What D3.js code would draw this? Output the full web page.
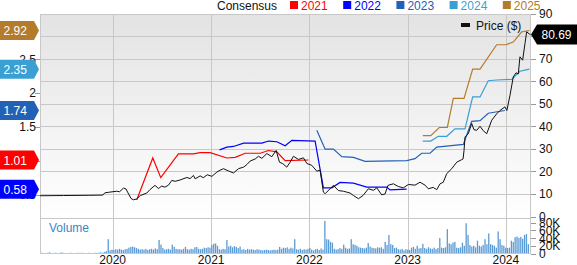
<!DOCTYPE html>
<html>
<head>
<meta charset="utf-8">
<script src="https://cdn.jsdelivr.net/npm/d3@7"></script>
<style>
body { margin: 0; background: #fff; }
text { font-family: "Liberation Sans", Arial, sans-serif; }
</style>
</head>
<body>
<div id="chart"></div>
<script>
// time is given as fractional year
const price = [
  [2019.26, 9.2], [2019.5, 9.3], [2019.75, 9.4], [2019.9, 9.5], [2019.92, 10.5], [2019.97, 10.8],
  [2020.04, 11.2], [2020.07, 11.0], [2020.11, 12.6], [2020.135, 12.2], [2020.155, 10.5], [2020.186, 8.0],
  [2020.21, 7.4], [2020.244, 7.8], [2020.28, 9.3], [2020.346, 10.4], [2020.38, 12.0], [2020.43, 13.8],
  [2020.464, 12.4], [2020.498, 13.5], [2020.53, 13.0], [2020.566, 13.9], [2020.60, 16.0], [2020.634, 15.6],
  [2020.685, 16.2], [2020.753, 17.3], [2020.786, 16.8], [2020.82, 18.2], [2020.837, 16.7], [2020.888, 18.0],
  [2020.92, 17.2], [2020.96, 18.5], [2021.007, 17.8], [2021.058, 19.7], [2021.09, 20.5], [2021.125, 21.2],
  [2021.176, 20.2], [2021.227, 19.3], [2021.278, 21.2], [2021.33, 21.9], [2021.363, 23.0], [2021.397, 24.6],
  [2021.448, 25.5], [2021.481, 26.7], [2021.516, 25.8], [2021.567, 27.9], [2021.617, 26.5], [2021.661, 29.3],
  [2021.695, 24.1], [2021.729, 23.4], [2021.77, 21.9], [2021.804, 24.1], [2021.837, 26.7], [2021.888, 25.3],
  [2021.939, 26.0], [2021.974, 23.5], [2022.024, 22.7], [2022.075, 20.1], [2022.109, 20.5], [2022.142, 10.8],
  [2022.16, 10.1], [2022.21, 12.3], [2022.244, 13.8], [2022.295, 11.5], [2022.346, 11.2], [2022.38, 10.8],
  [2022.414, 10.4], [2022.448, 9.3], [2022.499, 7.9], [2022.546, 9.3], [2022.60, 12.3], [2022.651, 11.6],
  [2022.686, 12.7], [2022.736, 9.6], [2022.77, 10.0], [2022.80, 13.8], [2022.855, 14.5], [2022.905, 13.3],
  [2022.956, 12.7], [2023.007, 14.2], [2023.075, 13.9], [2023.126, 15.2], [2023.177, 13.9], [2023.21, 12.3],
  [2023.26, 12.9], [2023.296, 11.9], [2023.33, 14.5], [2023.363, 15.2], [2023.398, 19.0], [2023.449, 21.2],
  [2023.50, 24.1], [2023.55, 25.2], [2023.564, 25.5], [2023.574, 29.3], [2023.584, 35.3], [2023.617, 36.7],
  [2023.652, 41.2], [2023.675, 38.5], [2023.703, 38.2], [2023.737, 40.0], [2023.77, 38.0], [2023.805, 36.7],
  [2023.856, 42.7], [2023.906, 45.5], [2023.94, 47.0], [2023.99, 48.6], [2024.01, 47.0], [2024.042, 53.8],
  [2024.075, 61.9], [2024.103, 63.7], [2024.126, 63.2], [2024.143, 70.8], [2024.17, 69.3], [2024.194, 76.7],
  [2024.211, 81.9], [2024.238, 80.9], [2024.25, 80.69]
];

const eps2021 = [
  [2020.244, 0.42], [2020.407, 1.04], [2020.488, 0.75], [2020.667, 1.10], [2020.82, 1.10], [2020.888, 1.12],
  [2020.99, 1.12], [2021.16, 1.04], [2021.244, 1.05], [2021.346, 1.11], [2021.50, 1.11], [2021.583, 1.15],
  [2021.668, 1.13], [2021.753, 1.00], [2021.99, 1.01]
];
const eps2022 = [
  [2021.085, 1.16], [2021.16, 1.20], [2021.227, 1.21], [2021.33, 1.26], [2021.516, 1.26], [2021.583, 1.29],
  [2021.668, 1.28], [2021.753, 1.22], [2021.821, 1.30], [2022.058, 1.29], [2022.142, 0.60], [2022.228, 0.60],
  [2022.312, 0.68], [2022.448, 0.67], [2022.584, 0.61], [2022.787, 0.61], [2022.82, 0.57], [2022.99, 0.58]
];
const eps2023 = [
  [2022.075, 1.45], [2022.16, 1.17], [2022.244, 1.17], [2022.33, 1.06], [2022.448, 1.05], [2022.567, 0.99],
  [2022.99, 1.00], [2023.075, 1.03], [2023.143, 1.11], [2023.228, 1.11], [2023.296, 1.20], [2023.567, 1.24],
  [2023.652, 1.58], [2023.737, 1.59], [2023.821, 1.70], [2023.99, 1.74]
];
const eps2024 = [
  [2023.154, 1.29], [2023.235, 1.29], [2023.312, 1.36], [2023.398, 1.36], [2023.482, 1.47], [2023.584, 1.47],
  [2023.662, 1.94], [2023.737, 1.94], [2023.821, 2.18], [2023.906, 2.19], [2024.059, 2.20], [2024.143, 2.32],
  [2024.238, 2.35]
];
const eps2025 = [
  [2023.154, 1.37], [2023.235, 1.37], [2023.322, 1.49], [2023.404, 1.49], [2023.465, 1.92], [2023.574, 1.92],
  [2023.662, 2.35], [2023.737, 2.35], [2023.906, 2.71], [2024.0, 2.71], [2024.075, 2.75], [2024.16, 2.90],
  [2024.238, 2.92]
];

// weekly volume in thousands, first week starting 2019-04-05
const volumeStart = [2019, 3, 5];
const volume = [
  1,2,1,1,2,3,1,1,2,1, 1,3,2,1,1,1,2,1,1,1, 2,1,2,1,1,1,2,1,1,2, 1,2,3,2,
  4,6,37, 8,10,9,11,10,12,10,9,11,12, 15,17,18,16,14, 12,10,
  11,10,12,9,11,12,10,13,11, 35,23,14,10,11,12,10, 23,17,12,11,
  11,10,12,17,11,10,12,11,16, 17,12,11, 12,15,14,16, 15,22,25,26,20,
  11,10,12,11, 35, 18,20,16,19,17,14,18, 10,11,9,12,10,11, 10,9,11,10,
  9,8,9,10,9,8,9,10, 9,10, 17,12,15,14,16,12,15, 13,37,
  11,10,12,9,11,10,12, 14,10,8,11,12,9,13, 10,84, 37,36,30,28, 12,10,11,
  14,12,23,15,12, 13,37, 24,22,20,16,15,14, 13,15,27,18,
  15,14,13,16,15,16,12, 30,22,48, 24,22,14,15, 11,10,12,8,11,10,9,
  15,17,12,20, 13,14,25, 14,12,16,13,12,15,11,14, 40, 15,14,16, 63,
  26,24,28,30, 15,14,16,28, 20,78,48, 22,18,20,16, 33, 20,18,22,
  37,24,52, 24,22,20,15, 57,37, 22,20, 15,14,15, 33,30, 42,44,40,43,
  38,48,50, 24
];

const years = [2020, 2021, 2022, 2023, 2024];
const priceTicks = [0, 10, 20, 30, 40, 50, 60, 70, 80, 90];
const epsTicks = [0.5, 1, 1.5, 2, 2.5];
const volumeTicks = [0, 20, 40, 60, 80];
const volumeTickLabels = ["0", "20K", "40K", "60K", "80K"];
const legendYears = ["2021", "2022", "2023", "2024", "2025"];
const lastEpsLabels = ["1.01", "0.58", "1.74", "2.35", "2.92"];
const lastPriceLabel = "80.69";

const colors = ["#ff0000", "#0000ff", "#2262b6", "#3a9fd2", "#b47b2c"];
const epsSeries = [eps2021, eps2022, eps2023, eps2024, eps2025];

function toDate(t) {
  const y = Math.floor(t);
  const a = new Date(y, 0, 1).getTime(), b = new Date(y + 1, 0, 1).getTime();
  return new Date(a + (t - y) * (b - a));
}

const W = 577, H = 265;
const plotLeft = 40, plotRight = 531, plotTop = 14, mainBottom = 218, volBottom = 254;

const svg = d3.select("#chart").append("svg")
  .attr("width", W).attr("height", H);

const x = d3.scaleTime()
  .domain([toDate(2019.26), toDate(2024.255)])
  .range([plotLeft, plotRight]);
const yPrice = d3.scaleLinear().domain([0, 90]).range([216.5, 13.5]);
const yEps = d3.scaleLinear().domain([0, 3]).range([228.5, 25.1]);
const yVol = d3.scaleLinear().domain([0, 80]).range([253.5, 222.5]);

const grad = svg.append("defs").append("linearGradient")
  .attr("id", "bg").attr("x1", 0).attr("y1", 0).attr("x2", 0).attr("y2", 1);
grad.append("stop").attr("offset", "0%").attr("stop-color", "#e3e3e3");
grad.append("stop").attr("offset", "100%").attr("stop-color", "#ffffff");

svg.append("rect")
  .attr("x", plotLeft).attr("y", plotTop)
  .attr("width", plotRight - plotLeft).attr("height", mainBottom - plotTop)
  .attr("fill", "url(#bg)");

// grid
svg.append("g").selectAll("line")
  .data(priceTicks.filter(d => d > 0 && d < 90))
  .join("line")
  .attr("x1", plotLeft).attr("x2", plotRight)
  .attr("y1", d => Math.round(yPrice(d)) + 0.5).attr("y2", d => Math.round(yPrice(d)) + 0.5)
  .attr("stroke", "#c8c8c8");
svg.append("g").selectAll("line")
  .data(years)
  .join("line")
  .attr("x1", d => Math.round(x(new Date(d, 0, 1))) + 0.5)
  .attr("x2", d => Math.round(x(new Date(d, 0, 1))) + 0.5)
  .attr("y1", plotTop).attr("y2", volBottom)
  .attr("stroke", "#c8c8c8");

// volume
svg.append("g").selectAll("rect")
  .data(volume)
  .join("rect")
  .attr("x", (d, i) => x(d3.timeDay.offset(new Date(...volumeStart), 7 * i)))
  .attr("width", 1.3)
  .attr("y", d => yVol(d))
  .attr("height", d => yVol(0) - yVol(d))
  .attr("fill", "#5b9bd5");

svg.append("text")
  .attr("x", 49).attr("y", 232)
  .attr("font-size", 12).attr("fill", "#3a86c6")
  .text("Volume");

// frame
svg.append("rect")
  .attr("x", plotLeft + 0.5).attr("y", plotTop + 0.5)
  .attr("width", plotRight - plotLeft - 1).attr("height", volBottom - plotTop - 1)
  .attr("fill", "none").attr("stroke", "#c8c8c8");
svg.append("line")
  .attr("x1", plotLeft).attr("x2", plotRight)
  .attr("y1", mainBottom + 0.5).attr("y2", mainBottom + 0.5)
  .attr("stroke", "#c8c8c8");

// lines
const line = d3.line()
  .x(d => x(toDate(d[0])))
  .y(d => yEps(d[1]));
svg.append("g").selectAll("path")
  .data(epsSeries)
  .join("path")
  .attr("d", line)
  .attr("fill", "none")
  .attr("stroke", (d, i) => colors[i])
  .attr("stroke-width", 1.2);

svg.append("path")
  .datum(price)
  .attr("d", d3.line().x(d => x(toDate(d[0]))).y(d => yPrice(d[1])))
  .attr("fill", "none")
  .attr("stroke", "#111")
  .attr("stroke-width", 1);

// right axis (price)
const rAxis = svg.append("g");
rAxis.selectAll("line")
  .data(priceTicks)
  .join("line")
  .attr("x1", plotRight).attr("x2", plotRight + 5)
  .attr("y1", d => Math.round(yPrice(d)) + 0.5).attr("y2", d => Math.round(yPrice(d)) + 0.5)
  .attr("stroke", "#999");
rAxis.selectAll("text")
  .data(priceTicks)
  .join("text")
  .attr("x", 539).attr("y", d => yPrice(d) + 4.5)
  .attr("font-size", 12).attr("fill", "#111")
  .text(d => d);

// right axis (volume)
const vAxis = svg.append("g");
vAxis.selectAll("line")
  .data(volumeTicks)
  .join("line")
  .attr("x1", plotRight).attr("x2", plotRight + 5)
  .attr("y1", d => Math.round(yVol(d)) + 0.5).attr("y2", d => Math.round(yVol(d)) + 0.5)
  .attr("stroke", "#999");
vAxis.selectAll("text")
  .data(volumeTicks)
  .join("text")
  .attr("x", 539).attr("y", d => yVol(d) + 4.5)
  .attr("font-size", 12).attr("fill", "#111")
  .text((d, i) => volumeTickLabels[i]);

// left axis (eps)
const lAxis = svg.append("g");
lAxis.selectAll("line")
  .data(epsTicks)
  .join("line")
  .attr("x1", plotLeft - 5).attr("x2", plotLeft)
  .attr("y1", d => Math.round(yEps(d)) + 0.5).attr("y2", d => Math.round(yEps(d)) + 0.5)
  .attr("stroke", "#999");
lAxis.selectAll("text")
  .data(epsTicks)
  .join("text")
  .attr("x", 36).attr("y", d => yEps(d) + 4.5)
  .attr("text-anchor", "end")
  .attr("font-size", 12).attr("fill", "#111")
  .text(d => d);

// x axis labels
svg.append("g").selectAll("text")
  .data(years)
  .join("text")
  .attr("x", d => x(new Date(d, 0, 1)))
  .attr("y", 264)
  .attr("text-anchor", "middle")
  .attr("font-size", 12).attr("fill", "#111")
  .text(d => d);

// left badges
const badges = svg.append("g").selectAll("g")
  .data(epsSeries)
  .join("g")
  .attr("transform", d => `translate(0,${yEps(d[d.length - 1][1])})`);
badges.append("path")
  .attr("d", "M0,-9.5H34L39,0L34,9.5H0Z")
  .attr("fill", (d, i) => colors[i]);
badges.append("text")
  .attr("x", 3.5).attr("y", 4.5)
  .attr("font-size", 12).attr("fill", "#fff")
  .text((d, i) => lastEpsLabels[i]);

// price badge
const pb = svg.append("g")
  .attr("transform", `translate(0,${yPrice(price[price.length - 1][1])})`);
pb.append("path").attr("d", "M531,0L537,-10H577V10H537Z").attr("fill", "#000");
pb.append("text").attr("x", 541.5).attr("y", 4.5)
  .attr("font-size", 12).attr("fill", "#fff").text(lastPriceLabel);

// price legend
svg.append("rect").attr("x", 461).attr("y", 23).attr("width", 9).attr("height", 4).attr("fill", "#111");
svg.append("text").attr("x", 476).attr("y", 29.5)
  .attr("font-size", 12).attr("fill", "#111").text("Price ($)");

// top legend
svg.append("text").attr("x", 217).attr("y", 9.5)
  .attr("font-size", 12).attr("fill", "#111").text("Consensus");
let lx = 290;
legendYears.forEach((name, i) => {
  svg.append("rect").attr("x", lx).attr("y", 1).attr("width", 8).attr("height", 8).attr("fill", colors[i]);
  const t = svg.append("text").attr("x", lx + 11).attr("y", 9.5)
    .attr("font-size", 12).attr("fill", colors[i]).text(name);
  lx += 11 + t.node().getComputedTextLength() + 15.5;
});
</script>
</body>
</html>
